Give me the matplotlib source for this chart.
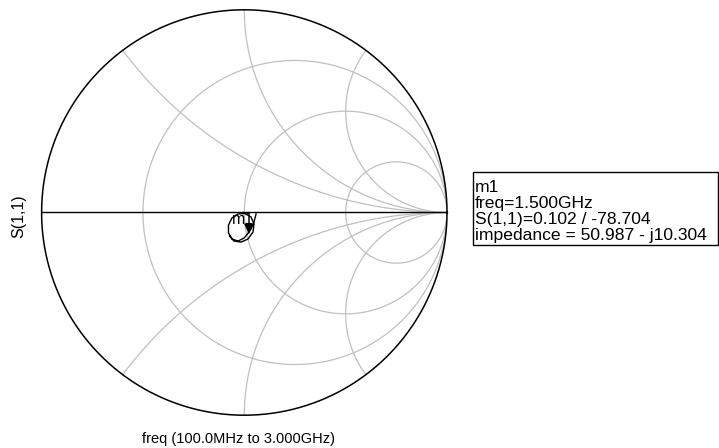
import matplotlib

matplotlib.use("Agg")

import matplotlib.pyplot as plt
import numpy as np
from matplotlib.patches import Rectangle


W_PX, H_PX = 719, 448
DPI = 100

# chart centre and radius on the canvas (pixels)
CX, CY, R = 244.3, 212.5, 202.7

# constant-resistance circles and constant-reactance arcs of the grid
R_CIRCLES = [1 / 3, 1.0, 3.0]
X_ARCS = [0.5, 1.0, 2.0, -0.5, -1.0, -2.0]

# S(1,1) trace, reflection coefficient (real, imaginary)
S11_RE = [0.058, 0.048, 0.033, 0.020, -0.001, -0.031, -0.060, -0.078, -0.078,
          -0.061, -0.031, 0.003, 0.033, 0.048, 0.043, 0.018, -0.016, -0.051,
          -0.073]
S11_IM = [-0.007, -0.047, -0.081, -0.100, -0.126, -0.141, -0.131, -0.101,
          -0.062, -0.027, -0.007, -0.005, -0.022, -0.057, -0.096, -0.131,
          -0.146, -0.141, -0.116]

# marker m1
M1_MAG = 0.102
M1_ANG = -78.704
M1_LINES = [
    "m1",
    "freq=1.500GHz",
    "S(1,1)=0.102 / -78.704",
    "impedance = 50.987 - j10.304",
]

X_LABEL = "freq (100.0MHz to 3.000GHz)"
Y_LABEL = "S(1,1)"

GRID_COLOR = "#c0c0c0"


def fx(px):
    return px / W_PX


def fy(py):
    return 1.0 - py / H_PX


def main():
    plt.rcParams["font.family"] = ["Liberation Sans", "DejaVu Sans"]

    fig = plt.figure(figsize=(W_PX / DPI, H_PX / DPI), dpi=DPI)
    ax = fig.add_axes([fx(CX - R), fy(CY + R), 2 * R / W_PX, 2 * R / H_PX])
    ax.set_xlim(-1, 1)
    ax.set_ylim(-1, 1)
    ax.axis("off")

    t = np.linspace(0, 2 * np.pi, 721)

    # resistance circles
    for r in R_CIRCLES:
        c = r / (1 + r)
        rad = 1 / (1 + r)
        ax.plot(c + rad * np.cos(t), rad * np.sin(t), color=GRID_COLOR,
                lw=0.9, zorder=1)

    # reactance arcs, traced along r = 0 .. inf
    rr = np.tan(np.linspace(0, np.pi / 2 - 1e-4, 600))
    for x in X_ARCS:
        z = rr + 1j * x
        g = (z - 1) / (z + 1)
        ax.plot(g.real, g.imag, color=GRID_COLOR, lw=0.9, zorder=1)

    # outer boundary and real axis
    ax.plot(np.cos(t), np.sin(t), color="black", lw=1.1, zorder=2,
            clip_on=False)
    ax.plot([-1, 1], [0, 0], color="black", lw=1.0, zorder=2, clip_on=False)

    ax.plot(S11_RE, S11_IM, color="black", lw=1.0, zorder=3)

    g1 = M1_MAG * np.exp(1j * np.deg2rad(M1_ANG))
    tri = [(-0.45, 1.0), (0.45, 1.0), (0.0, 0.0)]
    ax.plot([g1.real], [g1.imag], marker=tri, markersize=13, color="black",
            zorder=4, linestyle="none")
    ax.annotate("m1", (g1.real, g1.imag), xytext=(-5, 9),
                textcoords="offset pixels", ha="center", va="baseline",
                fontsize=11.5, zorder=5)

    # marker readout box
    fig.patches.append(Rectangle((fx(473.3), fy(244.5)),
                                 fx(718.0) - fx(473.3), fy(172.3) - fy(244.5),
                                 transform=fig.transFigure, fill=False,
                                 edgecolor="black", lw=1.0))
    for i, line in enumerate(M1_LINES):
        fig.text(fx(475.0), fy(192.0 + 16.0 * i), line, fontsize=12.6,
                 ha="left", va="baseline")

    fig.text(fx(238.8), fy(443.0), X_LABEL, fontsize=10.5, ha="center",
             va="baseline")
    fig.text(fx(19.0), fy(216.0), Y_LABEL, fontsize=11.5, rotation=90,
             ha="center", va="center")

    fig.savefig("out.png", dpi=DPI)
    plt.close(fig)


if __name__ == "__main__":
    main()
